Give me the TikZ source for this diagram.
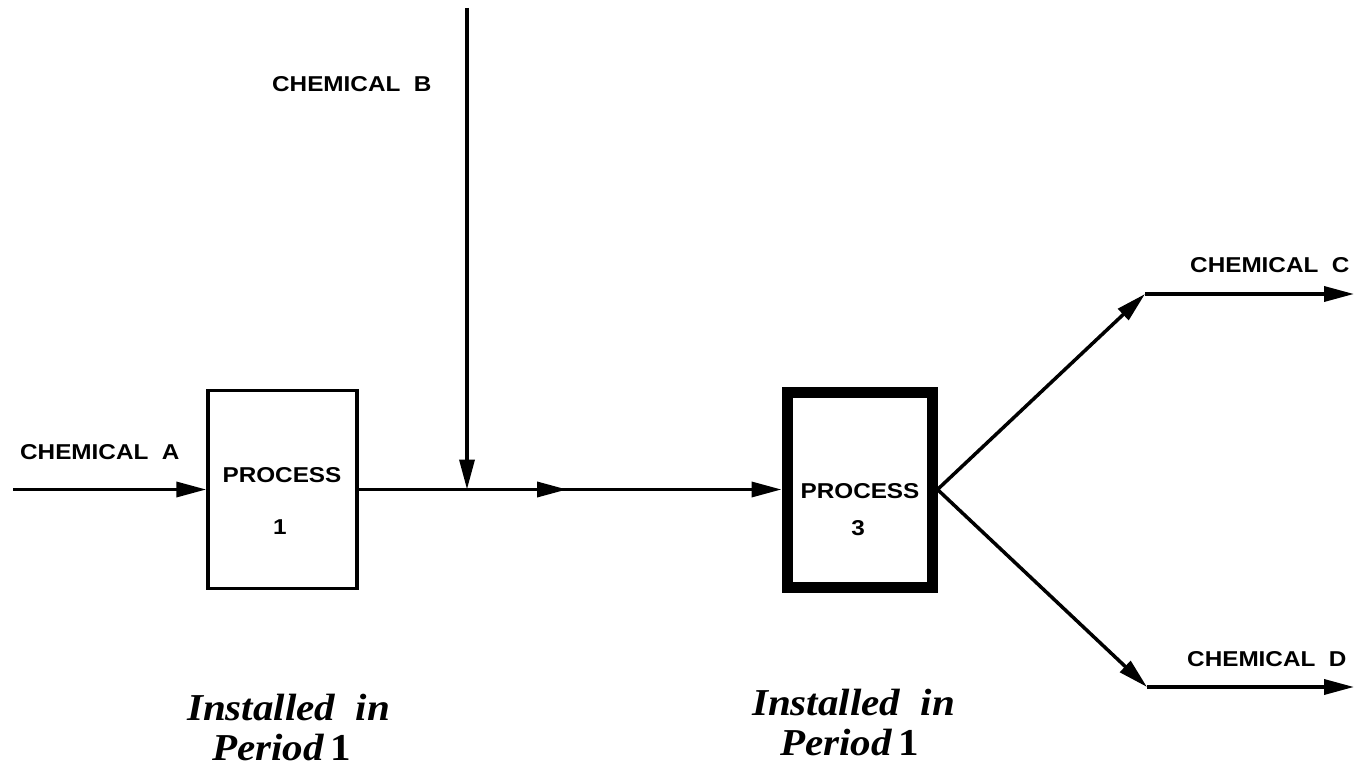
\documentclass[tikz,border=0pt]{standalone}
\usepackage{fontspec}
\usetikzlibrary{arrows.meta}
\newfontfamily\labfont[FakeStretch=1.13]{Liberation Sans}
\newfontfamily\notefont[FakeStretch=1.08]{Liberation Serif}
\begin{document}
\begin{tikzpicture}[x=1pt,y=-1pt,
  lab/.style={font=\labfont\bfseries\fontsize{21.5}{25}\selectfont, inner sep=0pt, anchor=base west},
  num/.style={font=\labfont\bfseries\fontsize{21.5}{25}\selectfont, inner sep=0pt, anchor=base},
  note/.style={font=\notefont\bfseries\itshape\fontsize{38}{44}\selectfont, inner sep=0pt, anchor=base west},
  flow/.style={line width=3.5pt, -{Triangle[length=30pt,width=15pt]}},
  proc/.style={draw, line width=3.5pt, minimum width=149pt, minimum height=198pt, inner sep=0pt},
  proct/.style={draw, line width=11pt, minimum width=145pt, minimum height=195pt, inner sep=0pt}]
\useasboundingbox (0,0) rectangle (1355,767);

% process boxes
\node[proc] (p1) at (282.5,489.5) {};
\node[proct] (p3) at (859.5,489.5) {};

\node[num] (p1a) at (282,482) {PROCESS};
\node[num] (p1b) at (280,534) {1};
\node[num] (p3a) at (860,498) {PROCESS};
\node[num] (p3b) at (858,535) {3};

% coordinates
\coordinate (ain) at (13,489.5);
\coordinate (btop) at (467,8);
\coordinate (junc) at (467,489.5);
\coordinate (mid) at (567,489.5);
\coordinate (cc) at (1145,294);
\coordinate (cend) at (1354,294);
\coordinate (dc) at (1147,687);
\coordinate (dend) at (1354,687);

% connectors
\draw[flow] (ain) -- (p1.west);
\draw[flow] (p1.east) -- (p3.west);
\draw[flow] (btop) -- (junc);
\draw[flow] (junc) -- (mid);
\draw[flow] (p3.east) -- (cc);
\draw[flow] (cc) -- (cend);
\draw[flow] (p3.east) -- (dc);
\draw[flow] (dc) -- (dend);

% labels
\node[lab] (la) at (20,459) {CHEMICAL~~A};
\node[lab] (lb) at (272,92) {CHEMICAL~~B};
\node[lab] (lc) at (1190,273) {CHEMICAL~~C};
\node[lab] (ld) at (1187,666) {CHEMICAL~~D};

% notes
\node[note] (n1a) at (187,720) {Installed~~in};
\node[note] (n1b) at (212,760) {Period\,{\upshape 1}};
\node[note] (n3a) at (752,715) {Installed~~in};
\node[note] (n3b) at (780,755) {Period\,{\upshape 1}};
\end{tikzpicture}
\end{document}
